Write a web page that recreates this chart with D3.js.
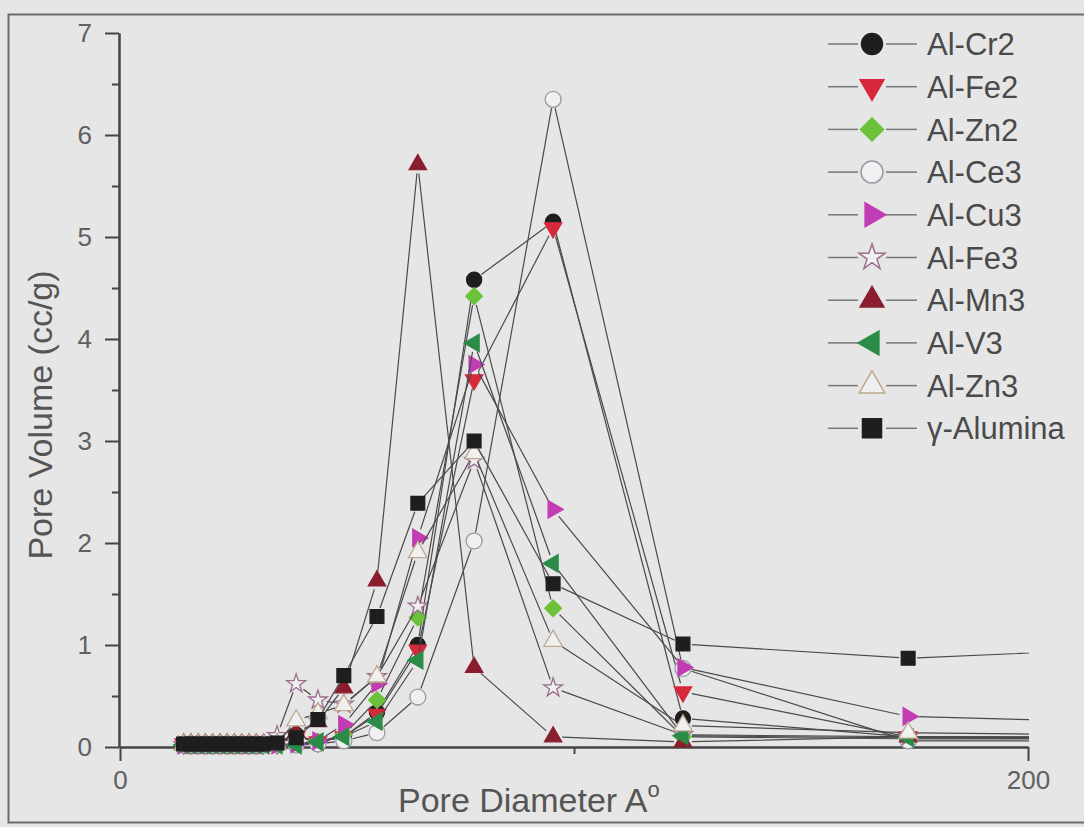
<!DOCTYPE html>
<html>
<head>
<meta charset="utf-8">
<script src="https://cdn.jsdelivr.net/npm/d3@7/dist/d3.min.js"></script>
<style>
  html, body { margin: 0; padding: 0; background: #e6e6e6; }
  svg { display: block; font-family: "Liberation Sans", Arial, sans-serif; }
  .axis path, .axis line { stroke: #444; stroke-width: 2; }
  .axis text { fill: #606060; font-size: 26px; font-family: "Liberation Sans", Arial, sans-serif; }
</style>
</head>
<body>
<script>
// pore diameter (A) of each measured point
const diameter = [14.0, 15.6, 17.2, 18.8, 20.4, 22.0, 23.6, 25.2, 26.8, 28.4, 30.0, 31.6,
                  34.6, 38.8, 43.6, 49.3, 56.6, 65.6, 78.0, 95.4, 124.0, 173.6, 215.0];

// pore volume (cc/g) per sample
const alCr2 = [0.03, 0.03, 0.03, 0.03, 0.03, 0.03, 0.03, 0.03, 0.03, 0.03, 0.03, 0.03,
               0.03, 0.12, 0.05, 0.10, 0.34, 1.00, 4.58, 5.15, 0.28, 0.10, 0.09];
const alFe2 = [0.03, 0.03, 0.03, 0.03, 0.03, 0.03, 0.03, 0.03, 0.03, 0.03, 0.03, 0.03,
               0.03, 0.10, 0.05, 0.10, 0.32, 0.95, 3.60, 5.09, 0.54, 0.10, 0.09];
const alZn2 = [0.02, 0.02, 0.02, 0.02, 0.02, 0.02, 0.02, 0.02, 0.02, 0.02, 0.02, 0.02,
               0.02, 0.03, 0.05, 0.12, 0.46, 1.27, 4.42, 1.36, 0.10, 0.08, 0.08];
const alCe3 = [0.02, 0.02, 0.02, 0.02, 0.02, 0.02, 0.02, 0.02, 0.02, 0.02, 0.02, 0.02,
               0.02, 0.02, 0.03, 0.06, 0.14, 0.49, 2.02, 6.35, 0.77, 0.06, 0.06];
const alCu3 = [0.02, 0.02, 0.02, 0.02, 0.02, 0.02, 0.02, 0.02, 0.02, 0.02, 0.02, 0.02,
               0.02, 0.03, 0.06, 0.22, 0.62, 2.05, 3.75, 2.33, 0.78, 0.30, 0.25];
const alFe3 = [0.02, 0.02, 0.02, 0.02, 0.02, 0.02, 0.02, 0.02, 0.02, 0.02, 0.02, 0.02,
               0.11, 0.62, 0.46, 0.42, 0.69, 1.38, 2.81, 0.58, 0.12, 0.10, 0.09];
const alMn3 = [0.03, 0.03, 0.03, 0.03, 0.03, 0.03, 0.03, 0.03, 0.03, 0.03, 0.03, 0.03,
               0.03, 0.14, 0.25, 0.58, 1.63, 5.71, 0.78, 0.10, 0.05, 0.10, 0.10];
const alV3  = [0.02, 0.02, 0.02, 0.02, 0.02, 0.02, 0.02, 0.02, 0.02, 0.02, 0.02, 0.02,
               0.02, 0.02, 0.05, 0.10, 0.25, 0.85, 3.96, 1.80, 0.11, 0.09, 0.08];
const alZn3 = [0.02, 0.02, 0.02, 0.02, 0.02, 0.02, 0.02, 0.02, 0.02, 0.02, 0.02, 0.02,
               0.03, 0.26, 0.33, 0.41, 0.69, 1.91, 2.88, 1.04, 0.21, 0.14, 0.12];
const gammaAlumina = [0.03, 0.03, 0.03, 0.03, 0.03, 0.03, 0.03, 0.03, 0.03, 0.03, 0.03, 0.03,
               0.04, 0.09, 0.27, 0.70, 1.28, 2.39, 3.00, 1.60, 1.01, 0.87, 0.95];

const seriesNames = ['Al-Cr2', 'Al-Fe2', 'Al-Zn2', 'Al-Ce3', 'Al-Cu3', 'Al-Fe3', 'Al-Mn3', 'Al-V3', 'Al-Zn3', 'γ-Alumina'];
const seriesValues = [alCr2, alFe2, alZn2, alCe3, alCu3, alFe3, alMn3, alV3, alZn3, gammaAlumina];

const yTicks = [0, 1, 2, 3, 4, 5, 6, 7];
const yMinorTicks = [0.5, 1.5, 2.5, 3.5, 4.5, 5.5, 6.5];
const xTicks = [0, 200];
const xMinorTicks = [100];

// marker look per series: shape, rotation, fill, stroke
const markers = [
    { type: d3.symbolCircle,   rot: 0,   size: 180, fill: '#1e1e1e', stroke: '#1e1e1e' },
    { type: d3.symbolTriangle, rot: 180, size: 130, fill: '#d8283c', stroke: '#d8283c' },
    { type: d3.symbolSquare,   rot: 45,  size: 140, fill: '#6cc23a', stroke: '#6cc23a' },
    { type: d3.symbolCircle,   rot: 0,   size: 200, fill: '#f0f0f0', stroke: '#9a9aa6' },
    { type: d3.symbolTriangle, rot: 90,  size: 130, fill: '#c23cb4', stroke: '#c23cb4' },
    { type: d3.symbolStar,     rot: 0,   size: 110, fill: '#f0f0f0', stroke: '#9a6e8e' },
    { type: d3.symbolTriangle, rot: 0,   size: 130, fill: '#8a1e2e', stroke: '#8a1e2e' },
    { type: d3.symbolTriangle, rot: -90, size: 130, fill: '#2a8c46', stroke: '#2a8c46' },
    { type: d3.symbolTriangle, rot: 0,   size: 150, fill: '#f0f0f0', stroke: '#c0a890' },
    { type: d3.symbolSquare,   rot: 0,   size: 190, fill: '#1e1e1e', stroke: '#1e1e1e' }
];

const W = 1084, H = 827;
const x = d3.scaleLinear().domain([0, 200]).range([120, 1028]);
const y = d3.scaleLinear().domain([0, 7]).range([747, 33]);

const svg = d3.select('body').append('svg').attr('width', W).attr('height', H);

svg.append('rect').attr('width', W).attr('height', H).attr('fill', '#e6e6e6');
svg.append('rect').attr('x', 8.5).attr('y', 14.5).attr('width', 1100).attr('height', 808)
   .attr('fill', 'none').attr('stroke', '#6a6a6a').attr('stroke-width', 2);

svg.append('defs').append('clipPath').attr('id', 'plotClip')
   .append('rect').attr('x', 119).attr('y', 0).attr('width', 910).attr('height', H);

// axes
svg.append('g').attr('class', 'axis').attr('transform', 'translate(0,747)')
   .call(d3.axisBottom(x).tickValues(xMinorTicks).tickSize(7).tickSizeOuter(0).tickFormat(''));
svg.append('g').attr('class', 'axis').attr('transform', 'translate(0,747)')
   .call(d3.axisBottom(x).tickValues(xTicks).tickSize(14).tickSizeOuter(0).tickPadding(10)
         .tickFormat(d3.format('d')));
svg.append('g').attr('class', 'axis').attr('transform', 'translate(119,0)')
   .call(d3.axisLeft(y).tickValues(yMinorTicks).tickSize(7).tickSizeOuter(0).tickFormat(''));
svg.append('g').attr('class', 'axis').attr('transform', 'translate(119,0)')
   .call(d3.axisLeft(y).tickValues(yTicks).tickSize(14).tickSizeOuter(0).tickPadding(13)
         .tickFormat(d3.format('d')));

svg.append('text').attr('transform', 'translate(52,415) rotate(-90)')
   .attr('text-anchor', 'middle').attr('fill', '#555').attr('font-size', 34)
   .text('Pore Volume (cc/g)');
const xTitle = svg.append('text').attr('x', 398).attr('y', 812)
   .attr('fill', '#555').attr('font-size', 34).text('Pore Diameter A');
xTitle.append('tspan').attr('dy', -15).attr('font-size', 22).text('o');

// lines stop short of each symbol, like the original plot
const gap = 9;
function gappedPath(pts, g) {
    let d = '';
    for (let i = 1; i < pts.length; i++) {
        const [x0, y0] = pts[i - 1], [x1, y1] = pts[i];
        const len = Math.hypot(x1 - x0, y1 - y0);
        if (len <= 2 * g) continue;
        const ux = (x1 - x0) / len, uy = (y1 - y0) / len;
        d += `M${x0 + ux * g},${y0 + uy * g}L${x1 - ux * g},${y1 - uy * g}`;
    }
    return d;
}

const plot = svg.append('g').attr('clip-path', 'url(#plotClip)');

seriesValues.forEach((vals, si) => {
    const m = markers[si];
    const pts = vals.map((v, i) => [x(diameter[i]), y(v)]);
    plot.append('path').attr('d', gappedPath(pts, gap))
        .attr('fill', 'none').attr('stroke', '#4a4a4a').attr('stroke-width', 1.2);
    plot.append('g').selectAll('path').data(pts).join('path')
        .attr('transform', p => `translate(${p[0]},${p[1]}) rotate(${m.rot})`)
        .attr('d', d3.symbol().type(m.type).size(m.size)())
        .attr('fill', m.fill).attr('stroke', m.stroke).attr('stroke-width', 1.3);
});

// legend
const legend = svg.append('g');
seriesNames.forEach((name, si) => {
    const m = markers[si];
    const ly = 44 + si * 42.7;
    legend.append('line').attr('x1', 828).attr('x2', 858).attr('y1', ly).attr('y2', ly)
        .attr('stroke', '#777').attr('stroke-width', 1.5);
    legend.append('line').attr('x1', 886).attr('x2', 917).attr('y1', ly).attr('y2', ly)
        .attr('stroke', '#777').attr('stroke-width', 1.5);
    legend.append('path').attr('transform', `translate(872,${ly}) rotate(${m.rot})`)
        .attr('d', d3.symbol().type(m.type).size(m.size * 1.9)())
        .attr('fill', m.fill).attr('stroke', m.stroke).attr('stroke-width', 1.5);
    legend.append('text').attr('x', 927).attr('y', ly).attr('dy', '0.36em')
        .attr('fill', '#4a4a4a').attr('font-size', 31).text(name);
});
</script>
</body>
</html>
